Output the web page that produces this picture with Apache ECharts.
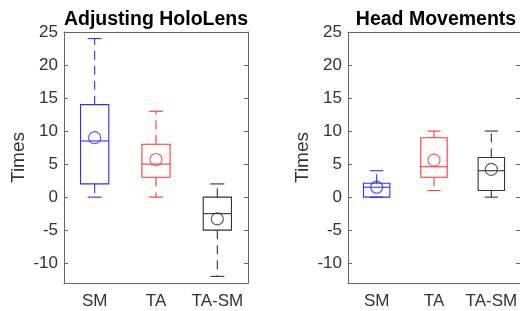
<!DOCTYPE html>
<html>
<head>
<meta charset="utf-8">
<script src="https://cdn.jsdelivr.net/npm/echarts@6/dist/echarts.min.js"></script>
<style>
  html, body { margin: 0; padding: 0; background: #fff; }
  #chart { width: 520px; height: 311px; }
</style>
</head>
<body>
<div id="chart"></div>
<script>
// box categories
const categories = ['SM', 'TA', 'TA-SM'];
// [lower whisker, q1, median, q3, upper whisker]
const holoLensStats = [[0, 2, 8.5, 14, 24], [0, 3, 5, 8, 13], [-12, -5, -2.5, 0, 2]];
const holoLensMeans = [9, 5.7, -3.3];
const headStats = [[0, 0, 1.5, 2.1, 4], [1, 3, 4.6, 9, 10], [0, 1, 4, 6, 10]];
const headMeans = [1.5, 5.6, 4.2];
const titles = ['Adjusting HoloLens', 'Head Movements'];
const boxColors = ['#2f2fff', '#ff3636', '#333333'];

const FONT = 'Liberation Sans, Arial, sans-serif';
const AXIS_COLOR = '#666';
const TEXT_COLOR = '#333';

// one grid per panel, px from the photo
const panels = [
  {left: 64, width: 184},
  {left: 348, width: 176}
];

function boxData(stats) {
  return stats.map((s, i) => [i].concat(s));
}

function meanData(means) {
  return means.map((m, i) => ({
    value: [i, m],
    itemStyle: {borderColor: boxColors[i]}
  }));
}

function renderBox(params, api) {
  const x = api.value(0);
  const band = api.size([1, 0])[0];
  const bw = band * 0.46;
  const cw = bw * 0.5;
  const color = boxColors[params.dataIndex];
  const lo = api.coord([x, api.value(1)]);
  const q1 = api.coord([x, api.value(2)]);
  const med = api.coord([x, api.value(3)]);
  const q3 = api.coord([x, api.value(4)]);
  const hi = api.coord([x, api.value(5)]);
  const cx = lo[0];
  const solid = {stroke: color, lineWidth: 1.1, fill: null};
  const dashed = {stroke: color, lineWidth: 1.1, fill: null, lineDash: [9, 6]};
  return {
    type: 'group',
    children: [
      {type: 'rect', shape: {x: cx - bw / 2, y: q3[1], width: bw, height: q1[1] - q3[1]}, style: solid},
      {type: 'line', shape: {x1: cx - bw / 2, y1: med[1], x2: cx + bw / 2, y2: med[1]}, style: solid},
      {type: 'line', shape: {x1: cx, y1: q3[1], x2: cx, y2: hi[1]}, style: dashed},
      {type: 'line', shape: {x1: cx, y1: q1[1], x2: cx, y2: lo[1]}, style: dashed},
      {type: 'line', shape: {x1: cx - cw / 2, y1: hi[1], x2: cx + cw / 2, y2: hi[1]}, style: solid},
      {type: 'line', shape: {x1: cx - cw / 2, y1: lo[1], x2: cx + cw / 2, y2: lo[1]}, style: solid}
    ]
  };
}

const grid = [], xAxis = [], yAxis = [], series = [], title = [];
const allStats = [holoLensStats, headStats];
const allMeans = [holoLensMeans, headMeans];

panels.forEach((p, g) => {
  grid.push({left: p.left, width: p.width, top: 32, height: 251});
  title.push({
    text: titles[g],
    left: p.left + p.width / 2,
    textAlign: 'center',
    top: 10,
    padding: 0,
    textStyle: {fontFamily: FONT, fontSize: 19.5, fontWeight: 'bold', color: '#000'}
  });
  // bottom + top category axes (top one only for the inward ticks)
  ['bottom', 'top'].forEach(pos => {
    xAxis.push({
      gridIndex: g,
      type: 'category',
      data: categories,
      position: pos,
      boundaryGap: true,
      axisLine: {onZero: false, lineStyle: {color: AXIS_COLOR, width: 1}},
      axisTick: {inside: true, alignWithLabel: true, length: 4, lineStyle: {color: AXIS_COLOR}},
      axisLabel: {show: pos === 'bottom', interval: 0, fontFamily: FONT, fontSize: 17, color: TEXT_COLOR, margin: 10},
      splitLine: {show: false}
    });
  });
  // left + right value axes
  ['left', 'right'].forEach(pos => {
    yAxis.push({
      gridIndex: g,
      type: 'value',
      position: pos,
      min: -13,
      max: 25,
      splitNumber: 8,
      name: pos === 'left' ? 'Times' : '',
      nameLocation: 'middle',
      nameGap: 36,
      nameTextStyle: {fontFamily: FONT, fontSize: 19, color: TEXT_COLOR},
      axisLine: {show: true, onZero: false, lineStyle: {color: AXIS_COLOR, width: 1}},
      axisTick: {show: true, inside: true, length: 4, lineStyle: {color: AXIS_COLOR}},
      axisLabel: {show: pos === 'left', showMinLabel: false, fontFamily: FONT, fontSize: 17, color: TEXT_COLOR, margin: 6},
      splitLine: {show: false}
    });
  });
  series.push({
    type: 'custom',
    xAxisIndex: g * 2,
    yAxisIndex: g * 2,
    renderItem: renderBox,
    encode: {x: 0, y: [1, 2, 3, 4, 5]},
    data: boxData(allStats[g]),
    silent: true,
    animation: false
  });
  series.push({
    type: 'scatter',
    xAxisIndex: g * 2,
    yAxisIndex: g * 2,
    symbol: 'circle',
    symbolSize: 12,
    itemStyle: {color: 'transparent', borderWidth: 1.2},
    data: meanData(allMeans[g]),
    silent: true,
    animation: false,
    z: 3
  });
});

const chart = echarts.init(document.getElementById('chart'), null, {renderer: 'canvas'});
chart.setOption({
  backgroundColor: '#fff',
  animation: false,
  title: title,
  grid: grid,
  xAxis: xAxis,
  yAxis: yAxis,
  series: series
});
</script>
</body>
</html>
